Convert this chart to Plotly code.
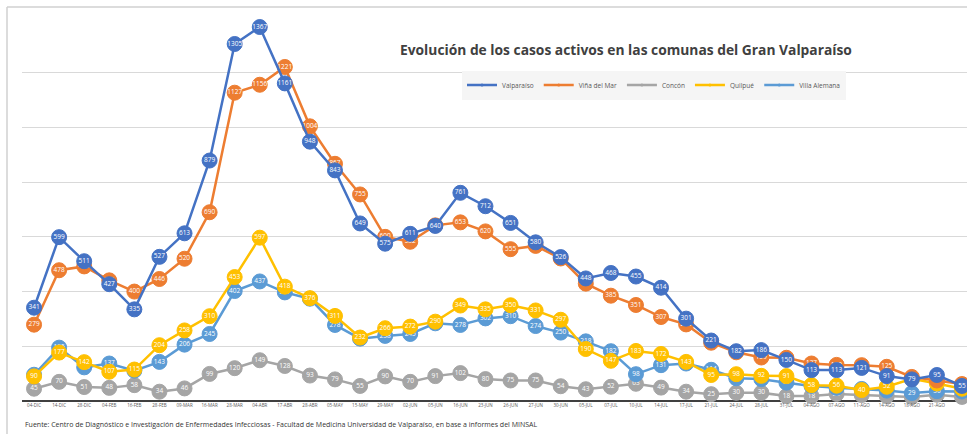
import plotly.graph_objects as go

fechas = ["04-DIC", "14-DIC", "28-DIC", "04-FEB", "16-FEB", "28-FEB", "09-MAR", "16-MAR", "28-MAR", "04-ABR",
          "17-ABR", "28-ABR", "05-MAY", "15-MAY", "29-MAY", "02-JUN", "05-JUN", "16-JUN", "23-JUN", "26-JUN",
          "27-JUN", "30-JUN", "05-JUL", "07-JUL", "10-JUL", "14-JUL", "17-JUL", "21-JUL", "24-JUL", "28-JUL",
          "31-JUL", "04-AGO", "07-AGO", "11-AGO", "14-AGO", "18-AGO", "21-AGO", "01-SEP"]

valparaiso = [341, 599, 511, 427, 335, 527, 613, 879, 1305, 1367, 1161, 948, 843, 649, 575, 611, 640, 761, 712, 651,
              580, 526, 448, 468, 455, 414, 301, 221, 182, 186, 150, 113, 113, 121, 91, 79, 95, 55]
vina_del_mar = [279, 478, 492, 441, 400, 446, 520, 690, 1127, 1156, 1221, 1004, 867, 755, 600, 582, 642, 653, 620, 555,
                567, 521, 429, 385, 351, 307, 280, 213, 178, 159, 158, 137, 132, 131, 125, 88, 75, 62]
concon = [45, 70, 51, 48, 58, 34, 46, 99, 120, 149, 128, 93, 79, 55, 90, 70, 91, 102, 80, 75,
          75, 54, 43, 52, 63, 49, 34, 25, 30, 30, 18, 18, 26, 22, 18, 15, 23, 15]
quilpue = [90, 177, 142, 107, 115, 204, 258, 310, 453, 597, 418, 376, 311, 232, 266, 272, 290, 349, 335, 350,
           331, 297, 190, 147, 183, 172, 143, 95, 98, 92, 91, 58, 56, 40, 52, 81, 64, 45]
villa_alemana = [96, 195, 123, 137, 111, 143, 206, 245, 402, 437, 397, 374, 278, 228, 238, 245, 284, 278, 302, 310,
                 274, 250, 218, 182, 98, 131, 137, 114, 83, 80, 67, 55, 48, 44, 38, 29, 36, 35]

series = [
    ("Valparaíso", valparaiso, "#4472C4"),
    ("Viña del Mar", vina_del_mar, "#ED7D31"),
    ("Concón", concon, "#A5A5A5"),
    ("Quilpué", quilpue, "#FFC000"),
    ("Villa Alemana", villa_alemana, "#5B9BD5"),
]

x = list(range(len(fechas)))
fig = go.Figure()

order = [2, 4, 3, 1, 0]
for i in order:
    name, vals, col = series[i]
    fig.add_trace(go.Scatter(
        x=x, y=vals, mode="lines+markers+text", name=name, showlegend=False,
        line=dict(color=col, width=2.5),
        marker=dict(size=15, color=col, line=dict(color=col, width=1)),
        text=[str(v) for v in vals], textposition="middle center",
        textfont=dict(family="Open Sans", size=6.5, color="white"),
        cliponaxis=False, hoverinfo="skip",
    ))

for name, vals, col in series:
    fig.add_trace(go.Scatter(
        x=[None], y=[None], mode="lines+markers", name=name,
        line=dict(color=col, width=2.5), marker=dict(size=3, color=col),
    ))

L, T, B = 22, 18, 33
H = 434 - T - B
W = 967 - L

def px_x(p):
    return (p - L) / W

def px_y(p):
    return (434 - B - p) / H

fig.update_layout(
    width=967, height=434,
    margin=dict(l=L, r=0, t=T, b=B),
    paper_bgcolor="white", plot_bgcolor="white",
    font=dict(family="Open Sans", color="#595959"),
    xaxis=dict(range=[-0.48, 37.2], tickmode="array", tickvals=x, ticktext=fechas,
               tickfont=dict(size=4.5, color="#595959"), tickangle=0, showgrid=False,
               zeroline=False, showline=False, ticks=""),
    yaxis=dict(range=[0, 1400], dtick=200, showticklabels=False, showgrid=True,
               gridcolor="#D9D9D9", gridwidth=1, zeroline=True, zerolinecolor="#404040",
               zerolinewidth=2, showline=False),
    legend=dict(orientation="h", x=px_x(462), y=px_y(85), xanchor="left", yanchor="middle",
                bgcolor="#F5F5F5", font=dict(size=6.5, color="#595959"),
                itemwidth=30, tracegroupgap=0),
    showlegend=True,
)

fig.add_annotation(
    text="<b>Evolución de los casos activos en las comunas del Gran Valparaíso</b>",
    xref="paper", yref="paper", x=px_x(626), y=px_y(50), xanchor="center", yanchor="middle",
    showarrow=False, font=dict(family="Open Sans", size=13.8, color="#404040"),
)
fig.add_annotation(
    text="Fuente: Centro de Diagnóstico e Investigación de Enfermedades Infecciosas - Facultad de Medicina Universidad de Valparaíso, en base a informes del MINSAL",
    xref="paper", yref="paper", x=px_x(23), y=px_y(424), xanchor="left", yanchor="middle",
    showarrow=False, font=dict(family="Open Sans", size=7, color="#333333"),
)

fig.add_shape(type="line", xref="paper", yref="paper", x0=px_x(7), x1=px_x(967), y0=px_y(7), y1=px_y(7),
              line=dict(color="#D0D0D0", width=1.5))
fig.add_shape(type="line", xref="paper", yref="paper", x0=px_x(7), x1=px_x(7), y0=px_y(7), y1=px_y(434),
              line=dict(color="#D0D0D0", width=1.5))

fig.write_html("out.html", config={"displayModeBar": False},
               post_script="document.body.style.margin='0px';document.body.style.overflow='hidden';")
